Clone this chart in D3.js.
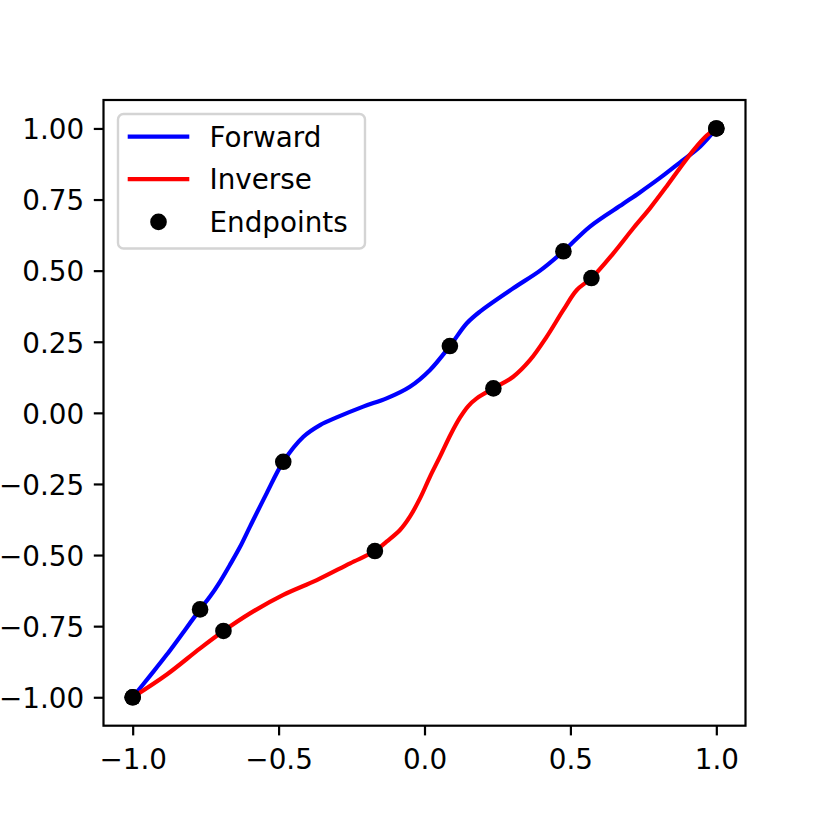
<!DOCTYPE html>
<html>
<head>
<meta charset="utf-8">
<script src="https://cdn.jsdelivr.net/npm/d3@7"></script>
<style>
  body { margin: 0; background: #fff; }
  text { font-family: "DejaVu Sans", sans-serif; }
</style>
</head>
<body>
<div id="chart-area"></div>
<script>
// curve samples
var forwardX = [-1, -0.940, -0.883, -0.769, -0.735, -0.701, -0.667, -0.632, -0.598, -0.541, -0.484, -0.415, -0.358, -0.301, -0.210, -0.130, -0.050, 0.019, 0.087, 0.145, 0.190, 0.304, 0.396, 0.476, 0.567, 0.681, 0.738, 0.807, 0.876, 0.945, 1];
var forwardY = [-1, -0.924, -0.850, -0.691, -0.646, -0.594, -0.535, -0.471, -0.400, -0.283, -0.172, -0.084, -0.043, -0.016, 0.022, 0.051, 0.092, 0.151, 0.235, 0.315, 0.356, 0.438, 0.500, 0.568, 0.655, 0.735, 0.775, 0.826, 0.881, 0.937, 1];

var inverseX = [-1, -0.883, -0.769, -0.689, -0.598, -0.484, -0.369, -0.255, -0.170, -0.130, -0.084, -0.050, -0.015, 0.019, 0.053, 0.090, 0.122, 0.150, 0.179, 0.236, 0.304, 0.362, 0.419, 0.476, 0.522, 0.572, 0.647, 0.716, 0.773, 0.830, 0.876, 0.922, 0.967, 1];
var inverseY = [-1, -0.920, -0.828, -0.767, -0.705, -0.640, -0.588, -0.529, -0.486, -0.453, -0.412, -0.365, -0.300, -0.224, -0.154, -0.075, -0.016, 0.024, 0.051, 0.086, 0.127, 0.186, 0.268, 0.362, 0.432, 0.474, 0.561, 0.650, 0.720, 0.797, 0.862, 0.924, 0.975, 1];

// knots (endpoints of the bins)
var forwardKnotX = [-1, -0.769, -0.484, 0.087, 0.476, 1];
var forwardKnotY = [-1, -0.691, -0.172, 0.235, 0.568, 1];
var inverseKnotX = [-1, -0.689, -0.170, 0.236, 0.572, 1];
var inverseKnotY = [-1, -0.767, -0.486, 0.086, 0.474, 1];

var xTicks = [-1, -0.5, 0, 0.5, 1];
var yTicks = [-1, -0.75, -0.5, -0.25, 0, 0.25, 0.5, 0.75, 1];
var legendLabels = ["Forward", "Inverse", "Endpoints"];
var seriesColors = ["#0000ff", "#ff0000"];

var width = 830;
var height = 830;
var plot = {left: 103.5, right: 745.5, top: 100, bottom: 725.7};
var fontSize = 27.8;

var svg = d3.select("#chart-area").append("svg")
    .attr("width", width)
    .attr("height", height);

var x = d3.scaleLinear()
    .domain([-1.1, 1.1])
    .range([plot.left, plot.right]);

var y = d3.scaleLinear()
    .domain([-1.1, 1.1])
    .range([plot.bottom, plot.top]);

var zip = function(xs, ys) {
    return xs.map(function(v, i) { return [v, ys[i]]; });
};

var line = d3.line()
    .x(function(d) { return x(d[0]); })
    .y(function(d) { return y(d[1]); })
    .curve(d3.curveCatmullRom.alpha(0.5));

svg.append("path")
    .attr("d", line(zip(forwardX, forwardY)))
    .attr("fill", "none")
    .attr("stroke", seriesColors[0])
    .attr("stroke-width", 4.2);

svg.append("path")
    .attr("d", line(zip(inverseX, inverseY)))
    .attr("fill", "none")
    .attr("stroke", seriesColors[1])
    .attr("stroke-width", 4.2);

var knots = zip(forwardKnotX, forwardKnotY).concat(zip(inverseKnotX, inverseKnotY));
svg.selectAll("circle.knot")
    .data(knots)
    .enter()
    .append("circle")
    .attr("class", "knot")
    .attr("cx", function(d) { return x(d[0]); })
    .attr("cy", function(d) { return y(d[1]); })
    .attr("r", 8.3)
    .attr("fill", "black");

// axes
var bottomAxis = d3.axisBottom(x)
    .tickValues(xTicks)
    .tickSize(9.7)
    .tickPadding(9.7)
    .tickFormat(d3.format(".1f"));

var gx = svg.append("g")
    .attr("transform", "translate(0," + plot.bottom + ")")
    .call(bottomAxis);
gx.select(".domain").remove();
gx.selectAll("line").attr("stroke", "black").attr("stroke-width", 2.2);
gx.selectAll("text")
    .attr("font-size", fontSize)
    .attr("font-family", "DejaVu Sans")
    .attr("fill", "black")
    .attr("dy", "0.87em");

var leftAxis = d3.axisLeft(y)
    .tickValues(yTicks)
    .tickSize(9.7)
    .tickPadding(9.7)
    .tickFormat(d3.format(".2f"));

var gy = svg.append("g")
    .attr("transform", "translate(" + plot.left + ",0)")
    .call(leftAxis);
gy.select(".domain").remove();
gy.selectAll("line").attr("stroke", "black").attr("stroke-width", 2.2);
gy.selectAll("text")
    .attr("font-size", fontSize)
    .attr("font-family", "DejaVu Sans")
    .attr("fill", "black")
    .attr("dy", "0.37em");

svg.append("rect")
    .attr("x", plot.left)
    .attr("y", plot.top)
    .attr("width", plot.right - plot.left)
    .attr("height", plot.bottom - plot.top)
    .attr("fill", "none")
    .attr("stroke", "black")
    .attr("stroke-width", 2.2);

// legend
var legend = svg.append("g");
legend.append("rect")
    .attr("x", 118)
    .attr("y", 114)
    .attr("width", 247)
    .attr("height", 134.5)
    .attr("rx", 5.5)
    .attr("fill", "white")
    .attr("fill-opacity", 0.8)
    .attr("stroke", "#d4d4d4")
    .attr("stroke-width", 2.4);

var rowY = [136.7, 179.2, 221.9];
legendLabels.forEach(function(label, i) {
    if (i < 2) {
        legend.append("line")
            .attr("x1", 127.7)
            .attr("x2", 189.3)
            .attr("y1", rowY[i])
            .attr("y2", rowY[i])
            .attr("stroke", seriesColors[i])
            .attr("stroke-width", 4.2);
    } else {
        legend.append("circle")
            .attr("cx", 158.5)
            .attr("cy", rowY[i])
            .attr("r", 8.3)
            .attr("fill", "black");
    }
    legend.append("text")
        .attr("x", 209.5)
        .attr("y", rowY[i] + 10)
        .attr("font-size", fontSize)
        .attr("fill", "black")
        .text(label);
});
</script>
</body>
</html>
